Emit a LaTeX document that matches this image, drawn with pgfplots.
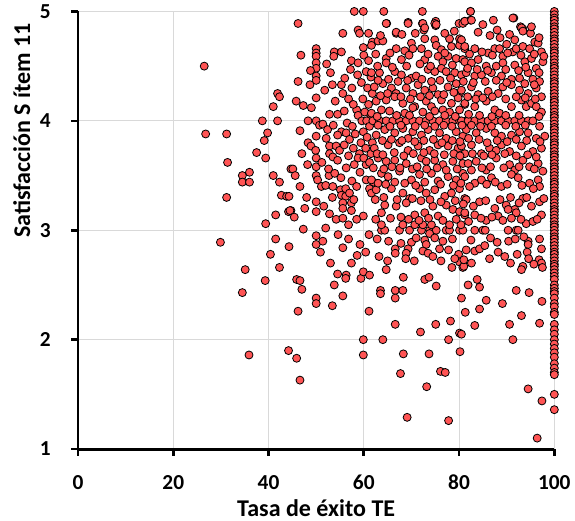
\documentclass[border=0pt]{standalone}
\usepackage{pgfplots}
\pgfplotsset{compat=1.18}
\usepackage{fontspec}
\setmainfont{Carlito}
\definecolor{dotred}{RGB}{255,84,84}
\definecolor{gridgray}{RGB}{217,217,217}

\begin{document}
\begin{tikzpicture}
\begin{axis}[
  scale only axis, width=357pt, height=328pt,
  xmin=0, xmax=100, ymin=1, ymax=5,
  xtick={0,20,...,100}, ytick={1,2,3,4,5},
  axis x line*=bottom, axis y line*=left,
  axis line style={line width=2.2pt},
  tick style={black, line width=2pt}, tick align=outside, major tick length=5pt,
  grid=major, major grid style={gridgray, line width=0.8pt},
  /pgf/number format/assume math mode=true,
  tick label style={font=\fontsize{16}{18}\selectfont\bfseries},
  xticklabel style={yshift=-11pt},
  yticklabel style={xshift=-12pt},
  label style={font=\fontsize{18}{20}\selectfont\bfseries},
  xlabel={Tasa de éxito TE}, ylabel={Satisfacción S ítem 11},
  ylabel style={at={(ticklabel cs:0.728,-6.5pt)}, anchor=south, inner ysep=10pt},
  title={\strut}, title style={inner sep=0pt, yshift=-14pt},
  clip=false,
]
\addplot[only marks, mark=*, mark size=3pt,
  mark options={fill=dotred, draw=black, line width=0.6pt}] table {
x y
26.5 4.50
26.8 3.88
31.2 3.88
31.4 3.62
31.2 3.30
29.9 2.89
34.5 3.50
34.5 3.44
36.0 3.53
36.0 3.44
37.5 3.71
38.7 4.00
39.1 3.82
39.8 3.89
39.4 3.66
39.4 3.06
41.0 4.13
41.9 4.25
42.3 4.22
41.9 4.00
41.0 3.50
42.3 3.44
42.7 3.32
43.8 3.31
41.5 3.14
41.5 2.92
40.4 2.78
44.2 3.17
44.3 2.85
35.1 2.64
42.3 2.66
39.3 2.54
34.5 2.43
35.9 1.86
44.2 1.90
44.7 3.56
44.7 3.18
58.0 5.00
59.9 5.00
46.2 4.89
55.6 4.80
58.8 4.83
59.1 4.80
59.9 4.67
61.8 4.72
50.0 4.66
50.0 4.62
50.0 4.59
50.0 4.53
50.0 4.48
50.0 4.41
50.0 4.37
53.8 4.63
55.3 4.63
53.7 4.59
57.4 4.55
58.8 4.53
57.2 4.47
58.7 4.42
46.2 4.36
48.7 4.33
53.4 4.33
55.3 4.33
56.0 4.39
55.6 4.25
50.0 4.21
45.8 4.18
47.3 4.14
52.8 4.06
54.5 4.06
55.9 4.09
58.5 4.10
58.8 4.05
48.3 4.00
50.0 4.00
50.7 3.96
51.4 3.97
46.6 3.91
50.0 3.86
52.1 3.84
48.3 3.80
48.9 3.77
49.9 3.73
52.8 3.77
54.2 3.77
54.9 3.73
55.9 3.78
55.3 3.90
54.5 3.87
56.3 3.89
57.0 3.83
52.8 3.70
53.5 3.67
54.5 3.64
50.0 3.66
50.0 3.58
56.3 3.57
59.1 3.70
58.8 3.66
60.5 3.60
59.2 3.53
45.1 3.56
45.6 3.50
50.0 3.50
50.3 3.46
51.1 3.40
52.7 3.50
52.0 3.41
53.5 3.40
55.1 3.37
56.2 3.38
55.3 3.32
56.2 3.31
57.0 3.34
60.5 3.46
62.0 3.44
61.2 3.38
61.6 3.34
44.3 3.31
50.0 3.26
53.4 3.30
55.6 3.25
57.4 3.25
55.6 3.20
57.4 3.18
44.5 3.18
45.4 3.12
50.0 3.17
54.2 3.10
55.6 3.11
59.9 3.13
47.3 3.01
60.0 4.60
61.0 4.55
60.5 4.45
61.5 4.40
59.5 4.35
60.8 4.30
61.8 4.25
59.8 4.20
61.0 4.15
60.2 4.08
61.5 4.05
59.6 4.00
60.6 4.00
61.2 3.95
59.9 3.90
60.7 3.85
61.8 3.80
59.4 3.80
60.4 3.75
61.5 3.70
60.0 3.66
61.2 3.62
57.5 4.30
56.8 4.20
57.8 4.15
56.5 3.98
57.6 3.95
58.2 3.88
57.8 3.75
56.8 3.68
58.0 3.60
57.5 3.45
58.5 3.40
57.9 3.28
58.5 3.10
56.8 3.05
50.0 2.95
50.0 2.87
51.4 2.90
50.9 2.80
55.6 2.84
59.2 2.87
58.6 2.77
61.1 2.96
45.9 2.55
46.6 2.54
47.0 2.46
46.2 2.26
50.0 2.38
50.0 2.33
53.4 2.31
54.5 2.60
56.3 2.59
56.2 2.56
53.8 2.50
55.6 2.40
59.4 2.56
59.9 2.62
61.2 2.59
61.1 2.26
45.9 1.83
46.6 1.63
59.9 2.00
59.9 1.86
63.7 3.00
64.4 3.00
67.5 3.00
69.6 3.00
72.1 3.00
73.8 3.00
75.2 3.00
77.3 3.00
78.0 3.00
80.1 3.00
80.8 3.00
70.0 2.89
69.3 2.83
68.9 2.79
68.8 2.74
66.6 2.83
66.6 2.79
72.8 2.91
73.1 2.87
72.4 2.81
73.5 2.79
74.5 2.76
73.8 2.97
74.9 2.93
75.9 2.83
77.8 2.82
79.9 2.78
80.1 2.71
79.1 2.74
78.5 2.66
80.8 2.66
64.7 2.64
68.3 2.57
72.8 2.55
73.7 2.57
75.2 2.49
63.5 2.45
63.5 2.42
66.6 2.45
68.2 2.45
66.6 2.38
80.5 2.38
66.6 2.14
71.9 2.07
75.1 2.14
78.2 2.17
80.1 2.06
80.5 2.05
64.0 2.00
77.8 2.00
68.3 1.87
73.7 1.87
80.2 1.89
67.7 1.69
76.1 1.71
77.1 1.70
73.2 1.57
69.1 1.29
77.8 1.26
94.5 1.55
97.4 1.44
96.4 1.10
91.3 2.00
90.6 2.14
93.1 2.22
96.9 2.15
83.3 2.13
89.1 2.33
92.0 2.45
94.7 2.43
97.4 2.35
85.7 2.36
84.3 2.28
81.3 2.25
81.9 2.50
84.3 2.48
83.8 2.55
81.0 2.67
81.0 2.73
81.5 2.82
83.3 2.81
84.3 2.83
85.4 2.86
88.2 2.80
89.6 2.76
94.5 2.90
94.5 2.87
94.3 2.80
94.6 2.74
96.9 2.92
97.3 2.83
96.8 2.73
97.3 2.70
97.5 2.66
95.7 2.69
93.4 2.67
93.1 2.64
83.3 3.00
85.0 3.00
85.5 3.00
90.3 3.00
92.0 3.00
92.4 3.00
64.2 5.00
72.3 5.00
82.4 5.00
69.3 4.90
72.3 4.89
72.6 4.83
75.1 4.91
75.1 4.87
80.0 4.89
81.2 4.91
82.4 4.92
91.5 4.94
92.9 4.86
93.4 4.84
64.8 4.89
66.8 4.80
64.7 4.89
69.3 4.89
72.4 4.89
74.9 4.89
80.8 4.89
72.8 4.85
75.2 4.88
66.8 4.81
63.0 4.73
64.0 4.73
72.8 4.75
74.9 4.74
78.0 4.75
80.1 4.75
61.6 4.69
66.8 4.66
68.6 4.64
70.0 4.71
70.3 4.66
72.1 4.66
75.2 4.69
76.3 4.65
78.4 4.68
80.1 4.69
81.2 4.66
64.7 4.57
64.7 4.53
67.9 4.56
72.8 4.56
75.6 4.59
76.6 4.54
77.7 4.59
79.4 4.57
80.8 4.56
61.6 4.44
63.3 4.44
66.5 4.45
67.9 4.42
70.0 4.39
71.0 4.41
73.5 4.47
74.9 4.45
76.3 4.48
77.3 4.45
79.1 4.44
80.5 4.42
62.2 4.31
64.0 4.34
65.8 4.30
66.8 4.25
68.9 4.30
70.3 4.25
71.4 4.33
72.8 4.28
74.5 4.30
75.6 4.24
77.7 4.31
79.4 4.34
80.1 4.25
62.6 4.18
64.7 4.19
66.5 4.22
68.2 4.16
70.7 4.13
73.1 4.18
74.2 4.13
76.3 4.19
78.4 4.16
79.8 4.21
81.2 4.15
61.6 4.07
63.7 4.10
65.4 4.09
68.6 4.07
70.3 4.12
72.4 4.08
74.9 4.09
76.6 4.10
78.0 4.08
80.1 4.10
61.9 4.00
63.3 4.00
64.7 4.00
66.1 4.00
67.5 4.00
68.9 4.00
70.3 4.00
71.7 4.00
73.1 4.00
74.5 4.00
75.9 4.00
77.3 4.00
78.7 4.00
80.1 4.00
81.5 4.00
62.6 3.87
64.4 3.92
66.5 3.89
68.2 3.93
69.3 3.84
70.3 3.90
72.1 3.87
73.5 3.92
75.9 3.89
77.3 3.84
79.4 3.90
80.8 3.86
62.2 3.75
65.1 3.78
67.5 3.80
69.3 3.73
71.4 3.77
73.8 3.73
75.6 3.78
77.7 3.77
79.8 3.75
81.2 3.70
63.0 3.66
64.7 3.63
66.5 3.64
68.9 3.61
72.1 3.66
73.1 3.63
74.9 3.64
76.6 3.60
78.7 3.63
80.8 3.61
61.6 3.46
63.7 3.52
65.1 3.49
67.5 3.54
70.0 3.46
71.7 3.51
74.2 3.52
75.6 3.45
77.7 3.49
79.4 3.46
80.8 3.52
62.6 3.37
65.8 3.38
68.2 3.34
69.6 3.29
71.7 3.38
73.1 3.34
74.9 3.37
77.0 3.31
78.4 3.34
80.1 3.38
81.2 3.29
63.7 3.16
64.4 3.23
66.8 3.22
68.9 3.25
70.7 3.14
72.8 3.16
74.5 3.22
75.6 3.13
77.3 3.23
78.7 3.19
80.1 3.17
81.2 3.14
63.7 3.05
68.2 3.05
70.7 3.05
72.4 3.05
74.2 3.05
78.0 3.05
80.4 3.05
82.4 5.00
81.2 4.91
82.6 4.92
91.3 4.94
93.1 4.85
93.4 4.82
90.6 4.79
91.7 4.74
95.9 4.72
96.6 4.71
80.5 4.74
81.2 4.68
83.3 4.66
86.1 4.62
87.5 4.66
88.5 4.66
89.2 4.59
91.3 4.63
92.0 4.66
93.4 4.68
94.8 4.66
97.3 4.63
81.2 4.54
82.6 4.53
84.0 4.56
85.7 4.50
87.8 4.50
89.2 4.53
91.7 4.51
93.8 4.54
95.2 4.57
96.2 4.48
97.6 4.54
81.5 4.44
83.3 4.41
84.7 4.42
86.8 4.44
88.9 4.41
91.0 4.38
92.7 4.39
94.5 4.44
95.5 4.38
96.9 4.36
80.5 4.28
82.6 4.31
84.0 4.24
86.1 4.27
88.2 4.25
89.2 4.31
91.0 4.33
92.7 4.28
94.5 4.25
96.2 4.30
97.3 4.22
81.2 4.16
83.3 4.13
85.7 4.18
87.5 4.10
88.5 4.07
91.0 4.13
93.1 4.19
94.1 4.13
95.2 4.16
96.2 4.13
97.3 4.08
80.5 4.00
81.9 4.00
83.3 4.00
84.7 4.00
86.1 4.00
87.5 4.00
88.9 4.00
90.3 4.00
91.7 4.00
93.1 4.00
94.5 4.00
95.5 4.00
81.5 3.92
83.6 3.89
85.7 3.93
87.5 3.89
88.9 3.86
91.0 3.87
92.7 3.90
94.5 3.89
96.2 3.84
98.0 3.86
80.5 3.77
82.6 3.78
84.7 3.70
86.4 3.75
87.8 3.73
88.9 3.78
90.6 3.72
93.1 3.77
95.5 3.72
97.3 3.75
81.9 3.61
83.6 3.63
85.7 3.55
87.8 3.66
90.6 3.60
91.7 3.55
93.4 3.64
94.8 3.58
96.6 3.61
97.6 3.54
81.2 3.49
83.3 3.43
84.7 3.46
86.8 3.48
88.9 3.40
91.0 3.51
92.4 3.48
94.8 3.43
96.6 3.46
96.9 3.40
81.5 3.28
84.3 3.26
87.5 3.20
89.9 3.23
91.7 3.19
93.4 3.29
95.2 3.22
96.9 3.26
81.2 3.16
83.3 3.14
85.7 3.09
88.2 3.13
90.3 3.19
92.0 3.16
94.1 3.06
95.5 3.08
97.3 3.14
61.0 4.80
63.5 4.78
68.0 4.79
70.8 4.80
77.0 4.80
79.0 4.82
84.0 4.81
86.5 4.78
88.0 4.83
95.0 4.80
62.5 4.61
65.5 4.62
69.5 4.60
73.5 4.61
77.0 4.62
82.2 4.61
84.8 4.63
87.0 4.60
90.2 4.62
93.0 4.60
95.8 4.61
97.8 4.59
62.9 4.50
66.0 4.49
69.0 4.50
71.8 4.52
74.0 4.50
78.6 4.51
81.8 4.48
83.8 4.47
86.0 4.46
89.8 4.47
92.5 4.46
94.0 4.49
96.8 4.44
63.0 4.37
65.2 4.38
67.2 4.36
69.2 4.37
72.2 4.38
74.2 4.36
76.0 4.37
78.2 4.39
80.9 4.36
83.0 4.35
85.5 4.36
87.8 4.37
90.0 4.35
93.8 4.34
95.8 4.33
63.5 4.23
65.0 4.25
67.8 4.22
69.8 4.20
71.9 4.22
73.8 4.23
76.8 4.24
78.9 4.26
81.8 4.22
83.5 4.20
85.0 4.21
87.0 4.22
89.8 4.20
92.0 4.22
93.9 4.21
96.0 4.20
62.8 4.04
66.9 4.05
69.6 4.05
73.8 4.04
77.0 4.05
79.2 4.04
82.0 4.06
84.3 4.05
86.9 4.04
89.8 4.05
92.6 4.05
96.8 4.04
63.0 3.96
65.5 3.95
67.8 3.96
70.8 3.95
72.8 3.96
74.9 3.95
76.8 3.96
78.5 3.95
80.6 3.96
82.6 3.96
84.5 3.95
86.8 3.95
89.8 3.96
91.9 3.95
93.9 3.96
96.9 3.95
63.9 3.82
65.8 3.83
68.0 3.82
70.7 3.81
72.6 3.82
74.6 3.83
76.4 3.80
78.6 3.82
80.2 3.81
82.0 3.84
84.2 3.83
85.9 3.80
88.0 3.82
90.1 3.81
92.0 3.83
94.2 3.82
97.0 3.81
62.8 3.70
64.0 3.69
66.4 3.71
68.4 3.68
70.4 3.70
72.6 3.71
74.8 3.70
76.9 3.69
78.9 3.70
80.2 3.68
82.8 3.70
85.2 3.68
86.9 3.69
89.6 3.70
92.0 3.68
94.4 3.69
96.2 3.67
62.0 3.57
64.2 3.56
65.9 3.58
67.6 3.57
70.2 3.56
71.2 3.58
73.2 3.56
75.4 3.57
77.3 3.55
79.6 3.56
82.6 3.55
84.8 3.57
86.6 3.58
89.4 3.57
92.6 3.58
95.8 3.56
63.0 3.43
64.6 3.42
66.5 3.44
68.6 3.43
70.9 3.41
72.8 3.44
76.1 3.42
78.8 3.41
80.4 3.43
82.2 3.40
85.8 3.42
87.6 3.44
90.1 3.42
93.2 3.41
95.6 3.38
62.4 3.28
64.2 3.30
67.0 3.28
70.2 3.29
72.0 3.27
73.9 3.28
76.2 3.26
79.2 3.27
80.9 3.24
83.0 3.22
85.6 3.27
88.6 3.28
90.8 3.30
92.6 3.25
94.2 3.30
97.8 3.29
62.5 3.10
65.6 3.11
67.8 3.12
69.4 3.10
71.6 3.09
73.6 3.11
76.6 3.09
79.4 3.10
82.0 3.08
84.6 3.11
86.9 3.12
89.2 3.09
91.0 3.11
93.0 3.10
96.4 3.10
62.8 2.92
65.2 2.90
67.8 2.88
71.0 2.93
76.6 2.90
78.6 2.92
82.5 2.91
86.6 2.93
88.0 2.89
90.4 2.90
91.8 2.92
93.6 2.94
63.2 2.76
65.0 2.72
70.6 2.72
76.2 2.72
82.6 2.70
86.4 2.74
90.8 2.70
92.2 2.78
85.0 4.88
87.2 4.92
88.6 4.76
90.0 4.70
96.8 4.76
95.2 4.86
52.2 4.52
53.0 4.44
51.8 4.28
54.0 4.18
52.4 3.92
53.6 3.96
51.2 3.62
52.6 3.56
53.9 3.52
55.2 3.48
51.6 3.22
52.8 3.15
48.2 3.60
47.0 3.70
46.6 3.40
48.0 3.30
47.6 3.20
49.0 4.12
48.8 4.46
46.8 4.60
52.0 3.02
54.6 2.96
56.8 2.92
53.0 2.70
57.4 2.70
60.4 2.80
100 5.00
100 4.97
100 4.94
100 4.92
100 4.89
100 4.86
100 4.84
100 4.81
100 4.78
100 4.75
100 4.73
100 4.70
100 4.67
100 4.64
100 4.62
100 4.59
100 4.56
100 4.53
100 4.50
100 4.48
100 4.45
100 4.42
100 4.39
100 4.36
100 4.34
100 4.31
100 4.28
100 4.25
100 4.22
100 4.19
100 4.17
100 4.14
100 4.11
100 4.08
100 4.05
100 4.03
100 4.00
100 3.97
100 3.94
100 3.92
100 3.89
100 3.86
100 3.83
100 3.80
100 3.78
100 3.75
100 3.72
100 3.69
100 3.67
100 3.64
100 3.61
100 3.58
100 3.56
100 3.53
100 3.50
100 3.47
100 3.44
100 3.42
100 3.39
100 3.36
100 3.33
100 3.31
100 3.28
100 3.25
100 3.22
100 3.19
100 3.17
100 3.14
100 3.11
100 3.08
100 3.05
100 3.03
100 3.00
100 2.97
100 2.94
100 2.92
100 2.89
100 2.86
100 2.83
100 2.80
100 2.78
100 2.75
100 2.72
100 2.69
100 2.67
100 2.64
100 2.61
100 2.58
100 2.55
100 2.50
100 2.47
100 2.44
100 2.42
100 2.38
100 2.33
100 2.30
100 2.25
100 2.23
100 2.14
100 2.09
100 2.05
100 2.00
100 1.96
100 1.92
100 1.88
100 1.84
100 1.78
100 1.74
100 1.70
100 1.68
100 1.50
100 1.36
};
\end{axis}
\end{tikzpicture}
\end{document}
